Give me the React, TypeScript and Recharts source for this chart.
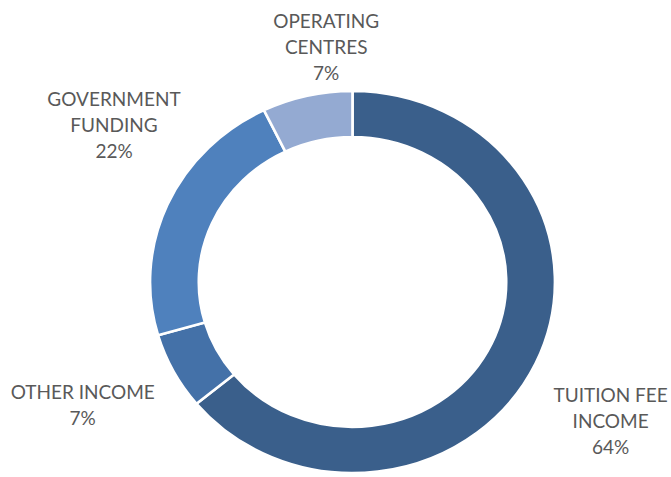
import React from "react";
import { PieChart, Pie, Cell } from "recharts";

const categories = ["TUITION FEE INCOME", "OTHER INCOME", "GOVERNMENT FUNDING", "OPERATING CENTRES"];
const values = [64.0, 6.5, 22.3, 7.2];
const labelLines = [["TUITION FEE", "INCOME"], ["OTHER INCOME"], ["GOVERNMENT", "FUNDING"], ["OPERATING", "CENTRES"]];
const colors = ["#3a5f8b", "#4471a8", "#4f81bd", "#94aad2"];

const data = categories.map((name, i) => ({ name, value: values[i] }));

const CX = 352.5;
const CY = 282;
const SX = 1.06;
const LABEL_DIST = 241;
const NUDGE: [number, number][] = [
  [27, 35],
  [-44, 9],
  [-5, -60],
  [31, -1],
];
const LINE_H = 26;

const renderLabel = (props: any) => {
  const { cx, cy, midAngle, index, percent } = props;
  const rad = (midAngle * Math.PI) / 180;
  const x = cx + SX * LABEL_DIST * Math.cos(rad) + NUDGE[index][0];
  const y = cy - LABEL_DIST * Math.sin(rad) + NUDGE[index][1];
  const lines = [...labelLines[index], `${Math.round(percent * 100)}%`];
  const top = y - ((lines.length - 1) * LINE_H) / 2;
  return (
    <text
      key={`lbl-${index}`}
      x={x}
      y={top}
      textAnchor="middle"
      dominantBaseline="central"
      fill="#595959"
      fontFamily="Lato, 'Open Sans', sans-serif"
      fontSize={19}
    >
      {lines.map((l, i) => (
        <tspan key={i} x={x} y={top + i * LINE_H} dominantBaseline="central">
          {l}
        </tspan>
      ))}
    </text>
  );
};

export default function App() {
  return (
    <div style={{ width: 671, height: 477, background: "#fff" }}>
      <style>{`
        body { margin: 0; }
        .recharts-pie .recharts-sector { transform-origin: ${CX}px ${CY}px; transform: scaleX(${SX}); }
      `}</style>
      <PieChart width={671} height={477} margin={{ top: 0, right: 0, bottom: 0, left: 0 }}>
        <Pie
          data={data}
          dataKey="value"
          nameKey="name"
          cx={CX}
          cy={CY}
          innerRadius={145}
          outerRadius={191}
          startAngle={90}
          endAngle={-270}
          stroke="#ffffff"
          strokeWidth={2.5}
          label={renderLabel}
          labelLine={false}
          isAnimationActive={false}
        >
          {data.map((d, i) => (
            <Cell key={d.name} fill={colors[i]} />
          ))}
        </Pie>
      </PieChart>
    </div>
  );
}
